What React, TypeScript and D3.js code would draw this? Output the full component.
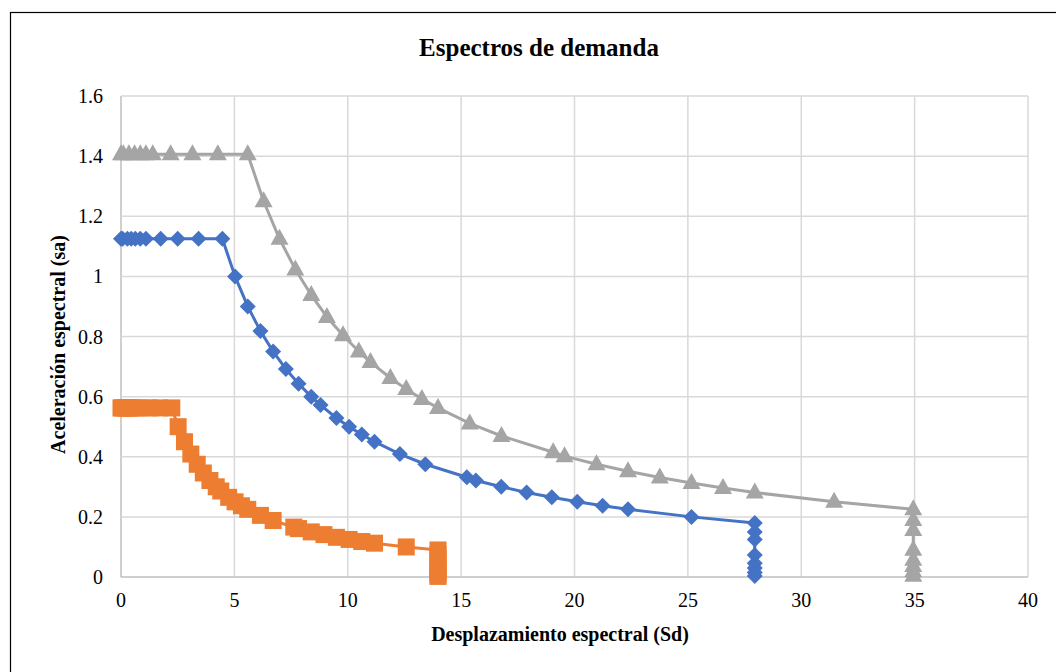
import React from "react";
import * as d3 from "d3";

const xTicks = [0, 5, 10, 15, 20, 25, 30, 35, 40];
const yTicks = [0, 0.2, 0.4, 0.6, 0.8, 1.0, 1.2, 1.4, 1.6];
const yTickLabels = ["0", "0.2", "0.4", "0.6", "0.8", "1", "1.2", "1.4", "1.6"];

const blueSd = [0, 0.07, 0.28, 0.45, 0.63, 0.85, 1.1, 1.75, 2.5, 3.42, 4.47,
  5.03, 5.59, 6.15, 6.71, 7.27, 7.83, 8.39, 8.8, 9.5, 10.06, 10.62, 11.18, 12.3, 13.42,
  15.25, 15.65, 16.77, 17.89, 19.0, 20.12, 21.24, 22.36, 25.16, 27.95,
  27.95, 27.95, 27.95, 27.95, 27.95, 27.95, 27.95];
const blueSa = [1.125, 1.125, 1.125, 1.125, 1.125, 1.125, 1.125, 1.125, 1.125, 1.125, 1.125,
  1.0, 0.9, 0.818, 0.75, 0.692, 0.643, 0.6, 0.572, 0.529, 0.5, 0.474, 0.45, 0.409, 0.375,
  0.332, 0.321, 0.3, 0.281, 0.265, 0.25, 0.237, 0.225, 0.2, 0.18,
  0.15, 0.125, 0.073, 0.046, 0.03, 0.015, 0.003];

const orangeSd = [0, 0.04, 0.14, 0.22, 0.32, 0.42, 0.56, 0.88, 1.26, 1.71, 2.24,
  2.52, 2.8, 3.08, 3.36, 3.63, 3.92, 4.2, 4.4, 4.75, 5.03, 5.31, 5.59, 6.15, 6.71,
  7.62, 7.83, 8.39, 8.95, 9.5, 10.06, 10.62, 11.18, 12.58, 13.98,
  13.98, 13.98, 13.98, 13.98, 13.98, 13.98, 13.98];
const orangeSa = [0.5625, 0.5625, 0.5625, 0.5625, 0.5625, 0.5625, 0.5625, 0.5625, 0.5625, 0.5625, 0.5625,
  0.5, 0.45, 0.409, 0.375, 0.346, 0.321, 0.3, 0.286, 0.265, 0.25, 0.237, 0.225, 0.205, 0.188,
  0.166, 0.161, 0.15, 0.141, 0.132, 0.125, 0.118, 0.1125, 0.1, 0.09,
  0.075, 0.062, 0.036, 0.023, 0.015, 0.007, 0.002];

const graySd = [0, 0.1, 0.35, 0.6, 0.85, 1.1, 1.4, 2.19, 3.15, 4.27, 5.59,
  6.29, 6.99, 7.69, 8.39, 9.08, 9.79, 10.49, 11.0, 11.88, 12.58, 13.27, 13.98, 15.38, 16.78,
  19.06, 19.56, 20.97, 22.36, 23.76, 25.16, 26.55, 27.95, 31.45, 34.94,
  34.94, 34.94, 34.94, 34.94, 34.94, 34.94, 34.94];
const graySa = [1.406, 1.406, 1.406, 1.406, 1.406, 1.406, 1.406, 1.406, 1.406, 1.406, 1.406,
  1.25, 1.125, 1.023, 0.938, 0.865, 0.804, 0.75, 0.715, 0.662, 0.625, 0.592, 0.5625, 0.511, 0.469,
  0.415, 0.402, 0.375, 0.352, 0.331, 0.3125, 0.296, 0.281, 0.25, 0.225,
  0.19, 0.156, 0.091, 0.057, 0.037, 0.019, 0.004];

const W = 1056, H = 672;
const X0 = 121, X1 = 1028, Y0 = 577, Y1 = 96;
const FONT = "'Liberation Serif', 'Times New Roman', serif";

export default function App() {
  const x = d3.scaleLinear().domain([0, 40]).range([X0, X1]);
  const y = d3.scaleLinear().domain([0, 1.6]).range([Y0, Y1]);
  const line = d3.line<[number, number]>().x(d => x(d[0])).y(d => y(d[1]));

  const zip = (a: number[], b: number[]) => a.map((v, i) => [v, b[i]] as [number, number]);
  const blue = zip(blueSd, blueSa);
  const orange = zip(orangeSd, orangeSa);
  const gray = zip(graySd, graySa);

  const diamond = (cx: number, cy: number) => `M${cx},${cy - 8}L${cx + 8},${cy}L${cx},${cy + 8}L${cx - 8},${cy}Z`;
  const tri = (cx: number, cy: number) => `M${cx},${cy - 10}L${cx + 9},${cy + 6}L${cx - 9},${cy + 6}Z`;

  return (
    <svg width={W} height={H} style={{ position: "absolute", left: 0, top: 0, background: "#fff" }}>
      <rect x={0} y={0} width={W} height={H} fill="#fff" />
      <rect x={10.5} y={12.5} width={1080} height={700} fill="none" stroke="#000" strokeWidth={1.2} />
      <text x={539} y={56} textAnchor="middle" fontFamily={FONT} fontWeight="bold" fontSize={25}>Espectros de demanda</text>
      {xTicks.map(t => (
        <line key={"gx" + t} x1={x(t)} x2={x(t)} y1={Y1} y2={Y0} stroke={t === 0 ? "#BFBFBF" : "#D9D9D9"} strokeWidth={1.5} />
      ))}
      {yTicks.map(t => (
        <line key={"gy" + t} x1={X0} x2={X1} y1={y(t)} y2={y(t)} stroke={t === 0 ? "#BFBFBF" : "#D9D9D9"} strokeWidth={1.5} />
      ))}
      {xTicks.map(t => (
        <text key={"tx" + t} x={x(t)} y={607} textAnchor="middle" fontFamily={FONT} fontSize={20}>{t}</text>
      ))}
      {yTicks.map((t, i) => (
        <text key={"ty" + t} x={103} y={y(t) + 7} textAnchor="end" fontFamily={FONT} fontSize={20}>{yTickLabels[i]}</text>
      ))}
      <text x={560} y={641} textAnchor="middle" fontFamily={FONT} fontWeight="bold" fontSize={20}>Desplazamiento espectral (Sd)</text>
      <text transform={`translate(65,${(Y0 + Y1) / 2 + 8}) rotate(-90)`} textAnchor="middle" fontFamily={FONT} fontWeight="bold" fontSize={20}>Aceleración espectral (sa)</text>

      <path d={line(blue) || ""} fill="none" stroke="#4472C4" strokeWidth={3} strokeLinejoin="round" />
      {blue.map((d, i) => <path key={"b" + i} d={diamond(x(d[0]), y(d[1]))} fill="#4472C4" />)}

      <path d={line(orange) || ""} fill="none" stroke="#ED7D31" strokeWidth={3} strokeLinejoin="round" />
      {orange.map((d, i) => <rect key={"o" + i} x={x(d[0]) - 8.5} y={y(d[1]) - 8.5} width={17} height={17} fill="#ED7D31" />)}

      <path d={line(gray) || ""} fill="none" stroke="#A5A5A5" strokeWidth={3} strokeLinejoin="round" />
      {gray.map((d, i) => <path key={"g" + i} d={tri(x(d[0]), y(d[1]))} fill="#A5A5A5" />)}
    </svg>
  );
}
